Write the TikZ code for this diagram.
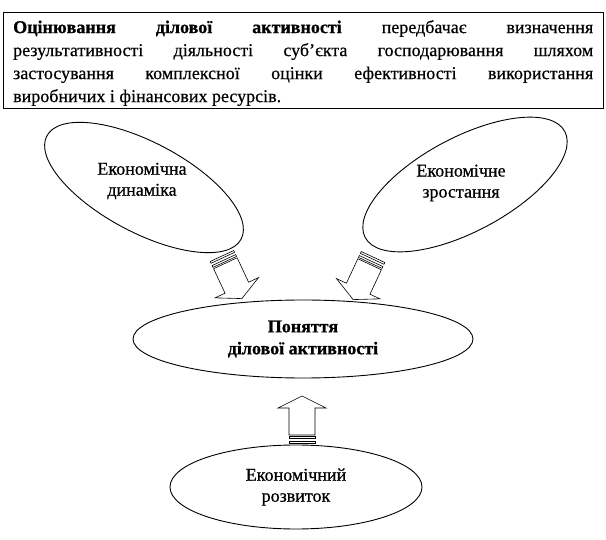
\documentclass[tikz,border=0pt]{standalone}
\usepackage{fontspec}
\setmainfont{Liberation Serif}[UprightFeatures={FakeBold=0.6},BoldFeatures={FakeBold=0.8}]
\usetikzlibrary{shapes.geometric}
\tikzset{
  ell/.style={draw, ellipse, line width=0.9pt, inner sep=0pt},
  lbl/.style={align=center, font=\fontsize{18}{21}\selectfont, inner sep=0pt},
  arr/.style={draw, line width=0.6pt, line join=miter},
  blockarr/.pic={
    \draw[arr] (-13,8) -- (-13,35) -- (-24,35) -- (0,47) -- (24,35) -- (13,35) -- (13,8) -- cycle;
    \draw[arr] (-13,0) rectangle (13,2);
    \draw[arr] (-13,4.5) rectangle (13,6.5);
  }
}
\begin{document}
\begin{tikzpicture}[x=1pt,y=-1pt]
\useasboundingbox (0,0) rectangle (606,540);
\node[draw, line width=1.4pt, anchor=north west, minimum width=600pt, minimum height=96pt,
      inner sep=0pt] (frame) at (3,12) {};
\node[anchor=north west, inner sep=0pt, text width=580pt, align=justify,
      font=\fontsize{18}{23}\selectfont] (def) at (13,20)
  {\hyphenpenalty=10000\exhyphenpenalty=10000
   \textbf{Оцінювання ділової активності} передбачає визначення\linebreak
   результативності діяльності суб’єкта господарювання шляхом\linebreak
   застосування комплексної оцінки ефективності використання\linebreak
   виробничих і фінансових ресурсів.};

\node[ell, minimum width=220pt, minimum height=90pt, rotate=-28] (dyn) at (144,187.5) {};
\node[lbl] (dyntxt) at (142,181) {Економічна\\динаміка};

\node[ell, minimum width=226pt, minimum height=94pt, rotate=28] (grow) at (465,184.5) {};
\node[lbl] (growtxt) at (461,183) {Економічне\\зростання};

\node[ell, minimum width=340pt, minimum height=78pt, align=center,
      font=\bfseries\fontsize{18}{22}\selectfont] (concept) at (303,339) {Поняття\\ділової активності};

\node[ell, minimum width=252pt, minimum height=84pt, align=center,
      font=\fontsize{18}{21}\selectfont] (dev) at (296,487) {Економічний\\розвиток};

\pic[rotate=25] (arrL) at (222,256) {blockarr};
\pic[rotate=-25] (arrR) at (373,257) {blockarr};
\pic[rotate=180] (arrU) at (302,443) {blockarr};
\end{tikzpicture}
\end{document}
